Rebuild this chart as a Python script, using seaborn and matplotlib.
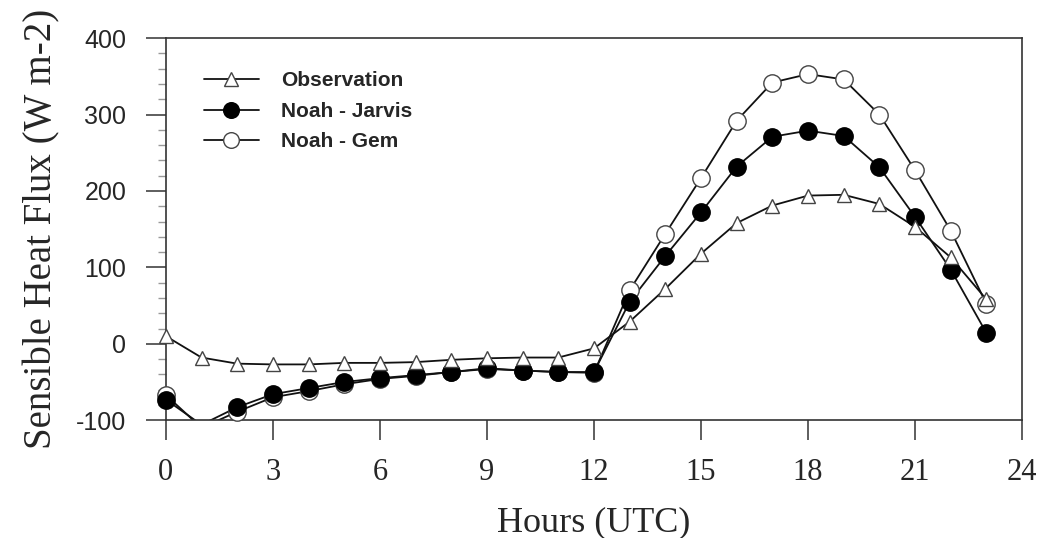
import numpy as np
import pandas as pd
import matplotlib
matplotlib.use("Agg")
import matplotlib.pyplot as plt
from matplotlib.lines import Line2D
from matplotlib.ticker import MultipleLocator
import seaborn as sns

# ---- data ----
hours = list(range(24))
observation = [10, -18, -26, -27, -27, -25, -25, -24, -21, -19, -18, -18, -6,
               29, 72, 118, 158, 181, 194, 195, 183, 153, 113, 58]
noah_jarvis = [-73, -106, -83, -66, -58, -50, -45, -41, -37, -32, -35, -37, -37,
               55, 115, 172, 232, 271, 279, 272, 231, 166, 97, 14]
noah_gem = [-67, -110, -89, -70, -62, -53, -46, -42, -37, -33, -35, -37, -38,
            70, 144, 217, 292, 342, 353, 346, 300, 227, 148, 52]
series_names = ["Observation", "Noah - Jarvis", "Noah - Gem"]
x_ticks = [0, 3, 6, 9, 12, 15, 18, 21, 24]
y_ticks = [-100, 0, 100, 200, 300, 400]

sns.set_theme(style="white")
plt.rcParams["font.family"] = ["Liberation Sans", "DejaVu Sans"]

fig = plt.figure(figsize=(10.43, 5.38), dpi=100)
ax = fig.add_axes([0.159, 0.219, 0.980 - 0.159, 0.929 - 0.219])

ymin, ymax = -100, 400
styles = {
    "Observation": dict(marker="^", mfc="white", mec="#444444", ms=10.5, mew=1.0),
    "Noah - Jarvis": dict(marker="o", mfc="black", mec="black", ms=12.5, mew=1.0),
    "Noah - Gem": dict(marker="o", mfc="white", mec="#444444", ms=12.5, mew=1.0),
}
data = {"Observation": observation, "Noah - Jarvis": noah_jarvis, "Noah - Gem": noah_gem}

for name in ["Noah - Gem", "Noah - Jarvis", "Observation"]:
    vals = np.array(data[name], dtype=float)
    df = pd.DataFrame({"h": hours, "v": vals})
    sns.lineplot(data=df, x="h", y="v", ax=ax, color="#111111", lw=1.3,
                 legend=False, zorder=2)
    inr = df[(df.v >= ymin) & (df.v <= ymax)]
    st = styles[name]
    ax.plot(inr.h, inr.v, linestyle="none", marker=st["marker"], mfc=st["mfc"],
            mec=st["mec"], ms=st["ms"], mew=st["mew"], clip_on=False, zorder=3)

ax.set_xlim(0, 24)
ax.set_ylim(ymin, ymax)
ax.set_xticks(x_ticks)
ax.set_yticks(y_ticks)
ax.yaxis.set_minor_locator(MultipleLocator(20))
ax.set_xticklabels([str(t) for t in x_ticks], fontfamily="Liberation Serif", fontsize=22)
ax.set_yticklabels([str(t) for t in y_ticks], fontfamily="Liberation Sans", fontsize=18)

ax.tick_params(axis="x", which="major", direction="out", length=14.5, width=1.1,
               color="#333333", pad=13, bottom=True, top=False)
ax.tick_params(axis="y", which="major", direction="out", length=14.5, width=1.1,
               color="#333333", pad=14, left=True, right=False)
ax.tick_params(axis="y", which="minor", direction="out", length=6, width=1.0,
               color="#999999", left=True, right=False)

for sp in ax.spines.values():
    sp.set_visible(True)
    sp.set_color("#333333")
    sp.set_linewidth(1.2)

ax.set_xlabel("Hours (UTC)", fontfamily="Liberation Serif", fontsize=26, labelpad=14)
ax.set_ylabel("Sensible Heat Flux (W m-2)", fontfamily="Liberation Serif", fontsize=28,
              labelpad=11)
ax.grid(False)

handles = []
for name in series_names:
    st = styles[name]
    handles.append(Line2D([], [], color="#111111", lw=1.3, marker=st["marker"],
                          mfc=st["mfc"], mec=st["mec"], ms=st["ms"] * 0.9, mew=st["mew"]))
leg = ax.legend(handles, series_names, loc="upper left", bbox_to_anchor=(0.045, 0.913),
                frameon=False, handlelength=2.6, handletextpad=1.1, labelspacing=0.55,
                borderpad=0, borderaxespad=0,
                prop={"family": "Liberation Sans", "weight": "bold", "size": 15})

fig.savefig("out.png", dpi=100)
